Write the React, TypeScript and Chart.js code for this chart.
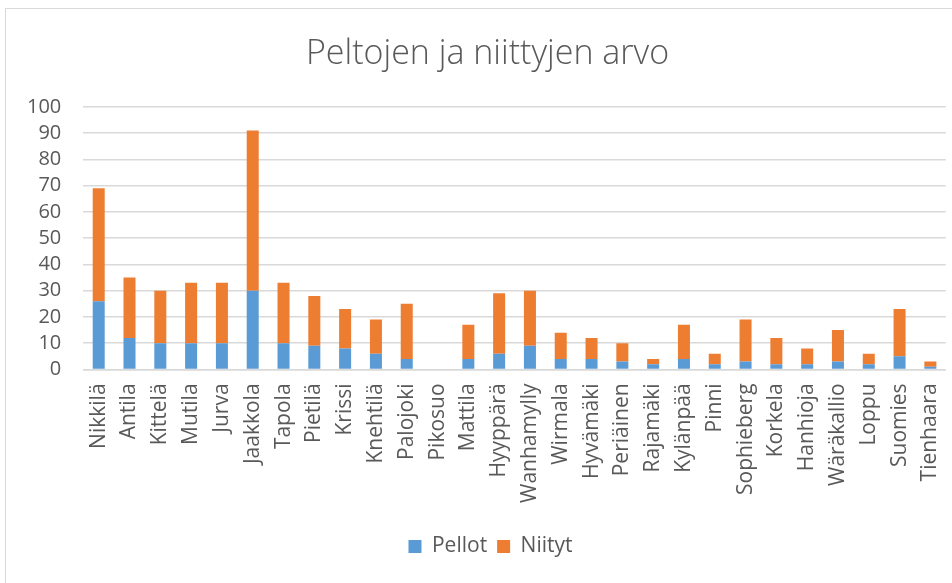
import React, { useEffect, useRef } from "react";
import { Chart, registerables } from "chart.js";

Chart.register(...registerables);

const categories = [
  "Nikkilä", "Antila", "Kittelä", "Mutila", "Jurva", "Jaakkola", "Tapola", "Pietilä",
  "Krissi", "Knehtilä", "Palojoki", "Pikosuo", "Mattila", "Hyyppärä", "Wanhamylly",
  "Wirmala", "Hyvämäki", "Periäinen", "Rajamäki", "Kylänpää", "Pinni", "Sophieberg",
  "Korkela", "Hanhioja", "Wäräkallio", "Loppu", "Suomies", "Tienhaara",
];

const pellot = [26, 12, 10, 10, 10, 30, 10, 9, 8, 6, 4, 0, 4, 6, 9, 4, 4, 3, 2, 4, 2, 3, 2, 2, 3, 2, 5, 1];
const niityt = [43, 23, 20, 23, 23, 61, 23, 19, 15, 13, 21, 0, 13, 23, 21, 10, 8, 7, 2, 13, 4, 16, 10, 6, 12, 4, 18, 2];

const yTicks = [0, 10, 20, 30, 40, 50, 60, 70, 80, 90, 100];

const title = "Peltojen ja niittyjen arvo";

const shiftBoxes = {
  id: "shiftBoxes",
  afterLayout(chart: any) {
    const t = chart.titleBlock;
    if (t) { t.left += 12; t.right += 12; }
    const l = chart.legend;
    if (l) { l.left += 15; l.right += 15; }
  },
};

export default function App() {
  const ref = useRef<HTMLCanvasElement | null>(null);

  useEffect(() => {
    if (!ref.current) return;
    const font = "'Open Sans', 'Liberation Sans', sans-serif";
    const chart = new Chart(ref.current, {
      type: "bar",
      data: {
        labels: categories,
        datasets: [
          { label: "Pellot", data: pellot, backgroundColor: "#5B9BD5", barPercentage: 0.39, categoryPercentage: 1 },
          { label: "Niityt", data: niityt, backgroundColor: "#ED7D31", barPercentage: 0.39, categoryPercentage: 1 },
        ],
      },
      plugins: [shiftBoxes],
      options: {
        responsive: false,
        animation: false,
        maintainAspectRatio: false,
        layout: { padding: { left: -1, right: 24, top: 0, bottom: 12 } },
        plugins: {
          title: {
            display: true,
            text: title,
            color: "#595959",
            font: { family: font, size: 34, weight: "300" },
            padding: { top: 25, bottom: 32 },
          },
          legend: {
            position: "bottom",
            labels: {
              color: "#595959",
              font: { family: font, size: 21 },
              boxWidth: 13,
              boxHeight: 13,
              padding: 10,
            },
          },
          tooltip: { enabled: false },
        },
        scales: {
          x: {
            stacked: true,
            grid: { display: false, drawTicks: false },
            border: { display: true, color: "#d9d9d9", width: 1.5 },
            ticks: {
              color: "#595959",
              font: { family: font, size: 21 },
              maxRotation: 90,
              minRotation: 90,
              autoSkip: false,
              padding: 14,
            },
            afterFit: (s: any) => {
              s.height = s.height + 9;
            },
          },
          y: {
            stacked: true,
            min: 0,
            max: 100,
            afterBuildTicks: (axis: any) => {
              axis.ticks = yTicks.map((v) => ({ value: v }));
            },
            grid: { color: "#d9d9d9", lineWidth: 1.5, drawTicks: false },
            border: { display: false },
            ticks: {
              color: "#595959",
              font: { family: font, size: 20 },
              padding: 22,
              autoSkip: false,
            },
          },
        },
      },
    });
    return () => chart.destroy();
  }, []);

  return (
    <div style={{ position: "fixed", left: 0, top: 0, width: 952, height: 583, background: "#fff", overflow: "hidden" }}>
      <div style={{ position: "absolute", left: 5, top: 8, width: 1000, height: 1, background: "#d9d9d9" }} />
      <div style={{ position: "absolute", left: 5, top: 8, width: 1, height: 600, background: "#d9d9d9" }} />
      <canvas
        ref={ref}
        width={964}
        height={570}
        style={{ display: "block", position: "absolute", left: 6, top: 9 }}
      />
    </div>
  );
}
